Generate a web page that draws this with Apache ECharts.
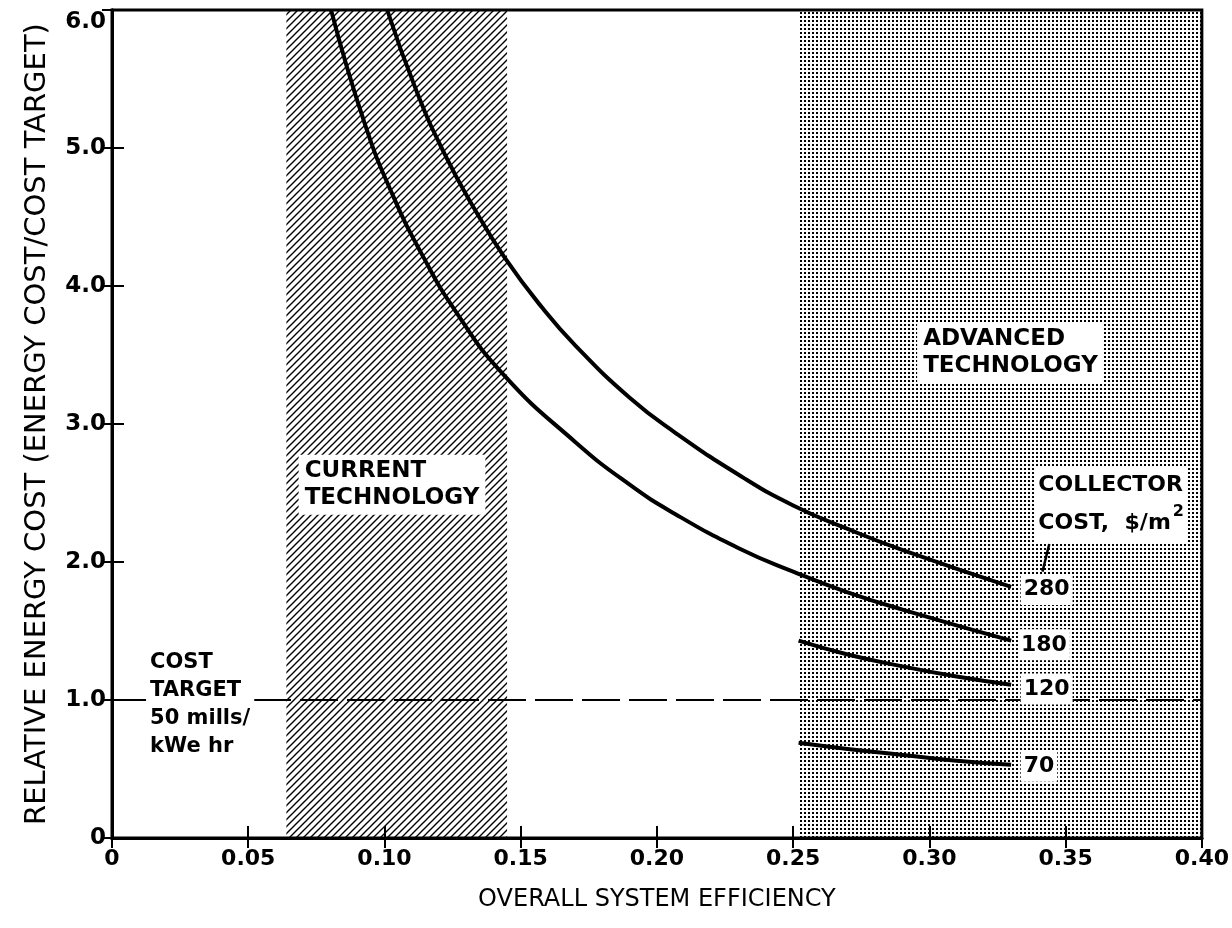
<!DOCTYPE html>
<html>
<head>
<meta charset="utf-8">
<script src="https://cdn.jsdelivr.net/npm/echarts@6/dist/echarts.min.js"></script>
<style>
  html, body { margin: 0; padding: 0; background: #fff; }
  #chart { width: 1232px; height: 928px; }
</style>
</head>
<body>
<div id="chart"></div>
<script>
// collector cost curves
const eff280 = [0.101, 0.112, 0.122, 0.133, 0.144, 0.158, 0.170, 0.19, 0.2065, 0.231, 0.25, 0.27, 0.291, 0.33];
const cost280 = [6.0, 5.40, 4.96, 4.56, 4.21, 3.84, 3.57, 3.19, 2.94, 2.62, 2.41, 2.24, 2.08, 1.82];
const eff180 = [0.0804, 0.0927, 0.103, 0.114, 0.126, 0.1436, 0.170, 0.19, 0.2065, 0.23, 0.25, 0.27, 0.291, 0.33];
const cost180 = [6.0, 5.18, 4.66, 4.22, 3.82, 3.36, 2.87, 2.56, 2.35, 2.10, 1.93, 1.78, 1.65, 1.43];
const eff120 = [0.252, 0.27, 0.291, 0.31, 0.33];
const cost120 = [1.43, 1.33, 1.24, 1.17, 1.11];
const eff70 = [0.252, 0.27, 0.291, 0.31, 0.33];
const cost70 = [0.69, 0.645, 0.60, 0.56, 0.53];

const currentBand = [0.064, 0.145];
const advancedBand = [0.252, 0.40];
const costTarget = 1.0;

const FONT = '"DejaVu Sans", sans-serif';

function pair(xs, ys) {
  return xs.map((x, i) => [x, ys[i]]);
}

function hatchPattern() {
  const c = document.createElement("canvas");
  c.width = c.height = 7;
  const ctx = c.getContext("2d");
  ctx.strokeStyle = "#000";
  ctx.lineWidth = 1.4;
  ctx.beginPath();
  ctx.moveTo(-1, 8); ctx.lineTo(8, -1);
  ctx.moveTo(-4, 4); ctx.lineTo(4, -4);
  ctx.moveTo(3, 11); ctx.lineTo(11, 3);
  ctx.stroke();
  return c;
}

function dotPattern() {
  const c = document.createElement("canvas");
  c.width = c.height = 4;
  const ctx = c.getContext("2d");
  ctx.fillStyle = "#000";
  ctx.fillRect(0, 0, 2, 2);
  return c;
}

const curveStyle = { color: "#000", width: 4 };
const labelBase = {
  show: true,
  position: "right",
  distance: 0,
  color: "#000",
  fontFamily: FONT,
  fontWeight: "bold",
  fontSize: 23,
  lineHeight: 27,
  align: "left",
};

const chart = echarts.init(document.getElementById("chart"));

chart.setOption({
  backgroundColor: "#fff",
  animation: false,
  grid: {
    left: 112, right: 20, top: 10, bottom: 90,
    show: true, borderColor: "#000", borderWidth: 3,
  },
  xAxis: [
    {
      type: "value", min: 0, max: 0.4, interval: 0.05,
      name: "OVERALL SYSTEM EFFICIENCY",
      nameLocation: "middle", nameGap: 50,
      nameTextStyle: { fontFamily: FONT, fontSize: 24, color: "#000" },
      axisLine: { lineStyle: { color: "#000", width: 3 } },
      axisTick: { inside: true, length: 12, lineStyle: { color: "#000", width: 2 } },
      axisLabel: {
        margin: 10, color: "#000", fontFamily: FONT, fontWeight: "bold", fontSize: 22,
        formatter: (v) => (v === 0 ? "0" : v.toFixed(2)),
      },
      splitLine: { show: false },
    },
    {
      type: "value", min: 0, max: 0.4, interval: 0.05, position: "top",
      axisLine: { lineStyle: { color: "#000", width: 3 } },
      axisTick: { inside: true, length: 10, lineStyle: { color: "#000", width: 2 } },
      axisLabel: { show: false },
      splitLine: { show: false },
    },
  ],
  yAxis: [
    {
      type: "value", min: 0, max: 6, interval: 1,
      name: "RELATIVE ENERGY COST (ENERGY COST/COST TARGET)",
      nameLocation: "middle", nameGap: 60, nameRotate: 90,
      nameTextStyle: { fontFamily: FONT, fontSize: 29, color: "#000" },
      axisLine: { lineStyle: { color: "#000", width: 3 } },
      axisTick: { inside: true, length: 12, lineStyle: { color: "#000", width: 2 } },
      axisLabel: {
        margin: 6, color: "#000", fontFamily: FONT, fontWeight: "bold", fontSize: 23,
        formatter: (v) => (v === 0 ? "0" : v === 6 ? "{t|6.0}" : v.toFixed(1)),
        rich: { t: { fontFamily: FONT, fontWeight: "bold", fontSize: 23, color: "#000", padding: [24, 0, 0, 0] } },
      },
      splitLine: { show: false },
    },
    {
      type: "value", min: 0, max: 6, interval: 1, position: "right",
      axisLine: { lineStyle: { color: "#000", width: 3 } },
      axisTick: { inside: true, length: 10, lineStyle: { color: "#000", width: 2 } },
      axisLabel: { show: false },
      splitLine: { show: false },
    },
  ],
  series: [
    {
      // technology bands + cost target line
      type: "line", data: [], z: 1, silent: true,
      markArea: {
        silent: true,
        label: { show: false },
        data: [
          [{ xAxis: currentBand[0], itemStyle: { color: { image: hatchPattern(), repeat: "repeat" } } },
           { xAxis: currentBand[1] }],
          [{ xAxis: advancedBand[0], itemStyle: { color: { image: dotPattern(), repeat: "repeat" } } },
           { xAxis: advancedBand[1] }],
        ],
      },
      markLine: {
        silent: true, symbol: "none",
        label: { show: false },
        lineStyle: { color: "#000", width: 2, type: [38, 9] },
        data: [{ yAxis: costTarget }],
      },
    },
    { type: "line", name: "280", data: pair(eff280, cost280), smooth: true, symbol: "none", lineStyle: curveStyle, z: 3 },
    { type: "line", name: "180", data: pair(eff180, cost180), smooth: true, symbol: "none", lineStyle: curveStyle, z: 3 },
    { type: "line", name: "120", data: pair(eff120, cost120), smooth: true, symbol: "none", lineStyle: curveStyle, z: 3 },
    { type: "line", name: "70", data: pair(eff70, cost70), smooth: true, symbol: "none", lineStyle: curveStyle, z: 3 },
    {
      // annotations
      type: "line", data: [], z: 5, silent: true,
      markPoint: {
        symbol: "circle", symbolSize: 0, silent: true,
        data: [
          { coord: [0.0685, 2.56], label: { ...labelBase, formatter: "CURRENT\nTECHNOLOGY", backgroundColor: "#fff", padding: [3, 6] } },
          { coord: [0.2955, 3.52], label: { ...labelBase, formatter: "ADVANCED\nTECHNOLOGY", backgroundColor: "#fff", padding: [3, 6] } },
          {
            coord: [0.3385, 2.42],
            label: {
              ...labelBase, backgroundColor: "#fff", padding: [0, 4, 0, 4], lineHeight: 38, fontSize: 22,
              formatter: "COLLECTOR\nCOST,  $/m{sup|2}",
              rich: { sup: { fontSize: 16, fontWeight: "bold", fontFamily: FONT, verticalAlign: "top", lineHeight: 38, padding: [0, 0, 14, 2] } },
            },
          },
          { coord: [0.0125, 0.97], label: { ...labelBase, formatter: "COST\nTARGET\n50 mills/\nkWe hr", fontSize: 21, lineHeight: 28, backgroundColor: "#fff", padding: [4, 4] } },
          { coord: [0.3335, 1.8], label: { ...labelBase, formatter: "280", fontSize: 22, backgroundColor: "#fff", padding: [2, 3] } },
          { coord: [0.3325, 1.4], label: { ...labelBase, formatter: "180", fontSize: 22, backgroundColor: "#fff", padding: [2, 3] } },
          { coord: [0.3335, 1.08], label: { ...labelBase, formatter: "120", fontSize: 22, backgroundColor: "#fff", padding: [2, 3] } },
          { coord: [0.3335, 0.52], label: { ...labelBase, formatter: "70", fontSize: 22, backgroundColor: "#fff", padding: [2, 3] } },
        ],
      },
      markLine: {
        silent: true,
        symbol: ["none", "arrow"], symbolSize: [0, 9],
        label: { show: false },
        lineStyle: { color: "#000", width: 2.5, type: "solid" },
        data: [[{ coord: [0.344, 2.13] }, { coord: [0.3415, 1.93] }]],
      },
    },
  ],
});
</script>
</body>
</html>
